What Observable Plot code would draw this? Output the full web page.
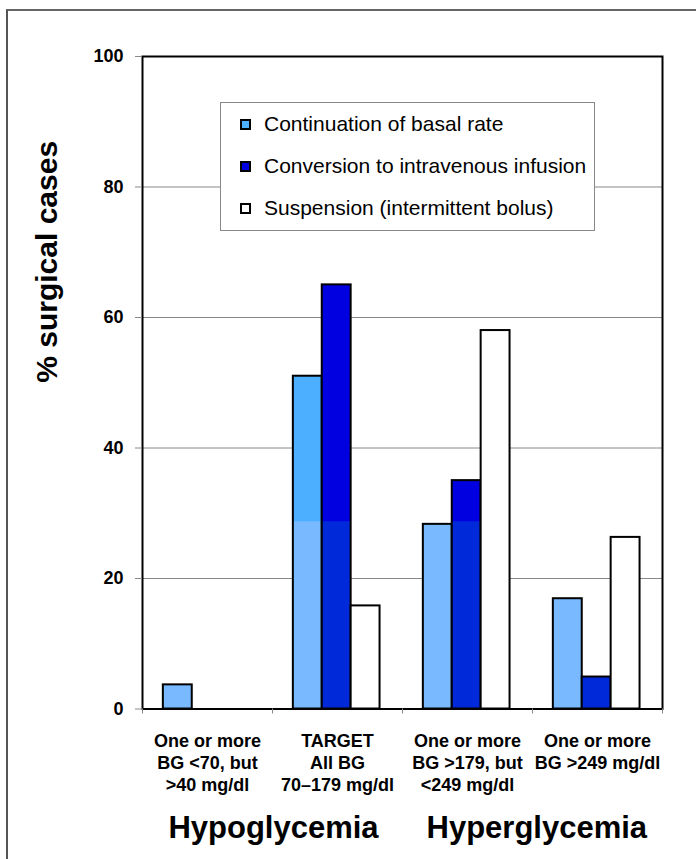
<!DOCTYPE html>
<html>
<head>
<meta charset="utf-8">
<script src="https://cdn.jsdelivr.net/npm/d3@7"></script>
<script src="https://cdn.jsdelivr.net/npm/@observablehq/plot@0.6"></script>
<style>
  html, body { margin: 0; padding: 0; background: #fff; overflow: hidden; }
  body { width: 696px; height: 859px; position: relative; font-family: "Liberation Sans", Arial, Helvetica, sans-serif; }
  #chart { position: absolute; left: 0; top: 0; }
  #outer { position: absolute; left: 6px; top: 9px; width: 900px; height: 1000px;
           border-left: 2px solid #555; border-top: 2px solid #666; pointer-events: none; }
  #legend { position: absolute; left: 220px; top: 102px; width: 373px; height: 127px;
            border: 1px solid #888; background: #fff; }
  .row { position: absolute; left: 0; height: 24px; line-height: 24px; font-size: 21px; color: #000; white-space: nowrap; }
  .sw { position: absolute; left: 19px; top: 7px; width: 7px; height: 7px; border: 2px solid #000; }
  .lt { position: absolute; left: 43px; top: 0; }
  .group { position: absolute; top: 812px; font-size: 31px; line-height: 31px; font-weight: bold;
           transform: translateX(-50%); white-space: nowrap; color: #000; }
</style>
</head>
<body>
<div id="chart"></div>
<div id="legend"></div>
<div id="outer"></div>
<script>
// ---- data ----
const categories = [
  "One or more\nBG <70, but\n>40 mg/dl",
  "TARGET\nAll BG\n70–179 mg/dl",
  "One or more\nBG >179, but\n<249 mg/dl",
  "One or more\nBG >249 mg/dl"
];
const series = [
  "Continuation of basal rate",
  "Conversion to intravenous infusion",
  "Suspension (intermittent bolus)"
];
const basalRate = [3.7, 51, 28.3, 16.9];
const ivInfusion = [0, 65, 35, 4.9];
const suspension = [0, 15.8, 58, 26.3];
const yTicks = [0, 20, 40, 60, 80, 100];
const groupLabels = ["Hypoglycemia", "Hyperglycemia"];
const yLabel = "% surgical cases";

// colours (lower tone / upper tone as seen in the picture)
const lowerColors = ["#78b9ff", "#0029d9", "#ffffff"];
const upperColors = ["#4cafff", "#0000e0", null];
const shadeBreak = 28.7;

const values = [basalRate, ivInfusion, suspension];
const data = [];
series.forEach((s, i) => categories.forEach((c, j) => data.push({cat: c, series: s, si: i, value: values[i][j]})));

// ---- layout ----
const W = 696, H = 800;
const mL = 142, mR = 34, mT = 56, mB = H - 708.5;
const bandW = (W - mL - mR) / categories.length;
const barW = 28.9;
const inset = (bandW - barW) / 2;

const barMarks = series.flatMap((s, i) => {
  const d = data.filter(r => r.si === i && r.value > 0);
  const common = {x: "cat", insetLeft: inset, insetRight: inset, dx: (i - 1) * barW - 0.8};
  const m = [Plot.barY(d, {...common, y: "value", fill: lowerColors[i]})];
  if (upperColors[i]) {
    m.push(Plot.barY(d.filter(r => r.value > shadeBreak), {...common, y1: () => shadeBreak, y2: "value", fill: upperColors[i]}));
  }
  m.push(Plot.barY(d, {...common, y: "value", fill: "none", stroke: "#000", strokeWidth: 2}));
  return m;
});

const plot = Plot.plot({
  width: W, height: H,
  marginLeft: mL, marginRight: mR, marginTop: mT, marginBottom: mB,
  style: {fontFamily: '"Liberation Sans", Arial, Helvetica, sans-serif', background: "transparent", overflow: "visible", color: "#000"},
  x: {type: "band", domain: categories, padding: 0},
  y: {domain: [0, 100]},
  marks: [
    Plot.ruleY(yTicks.filter(v => v > 0 && v < 100), {stroke: "#888", strokeWidth: 1}),
    ...barMarks,
    Plot.frame({stroke: "#000", strokeWidth: 2}),
    Plot.axisY({ticks: yTicks, tickSize: 7, tickPadding: 12, fontSize: 18, fontWeight: "bold", stroke: "#888", fill: "#000", label: null}),
    Plot.axisX({tickSize: 0, tickPadding: 23, fontSize: 18, fontWeight: "bold", lineHeight: 1.2, fill: "#000", label: null}),
    Plot.ruleX(categories, {x: d => d, y1: () => 0, y2: () => 0, dx: -bandW / 2, insetBottom: -5, stroke: "#888"}),
    Plot.ruleX(categories.slice(-1), {x: d => d, y1: () => 0, y2: () => 0, dx: bandW / 2, insetBottom: -5, stroke: "#888"}),
    Plot.text([yLabel], {text: d => d, frameAnchor: "left", rotate: -90, dx: -95, fontSize: 30, fontWeight: "bold", fill: "#000"})
  ]
});
document.getElementById("chart").appendChild(plot);

// ---- legend ----
const legend = document.getElementById("legend");
const rowCenters = [21.3, 63.3, 104.7];
const swatchColors = ["#4cafff", "#0000e0", "#ffffff"];
series.forEach((s, i) => {
  const row = document.createElement("div");
  row.className = "row";
  row.style.top = (rowCenters[i] - 12) + "px";
  const sw = document.createElement("div");
  sw.className = "sw";
  sw.style.background = swatchColors[i];
  const t = document.createElement("div");
  t.className = "lt";
  t.textContent = s;
  row.appendChild(sw); row.appendChild(t);
  legend.appendChild(row);
});

// ---- group labels below the axis ----
const groupCenters = [273.5, 536.8];
groupLabels.forEach((g, i) => {
  const el = document.createElement("div");
  el.className = "group";
  el.style.left = groupCenters[i] + "px";
  el.textContent = g;
  document.body.appendChild(el);
});
</script>
</body>
</html>
